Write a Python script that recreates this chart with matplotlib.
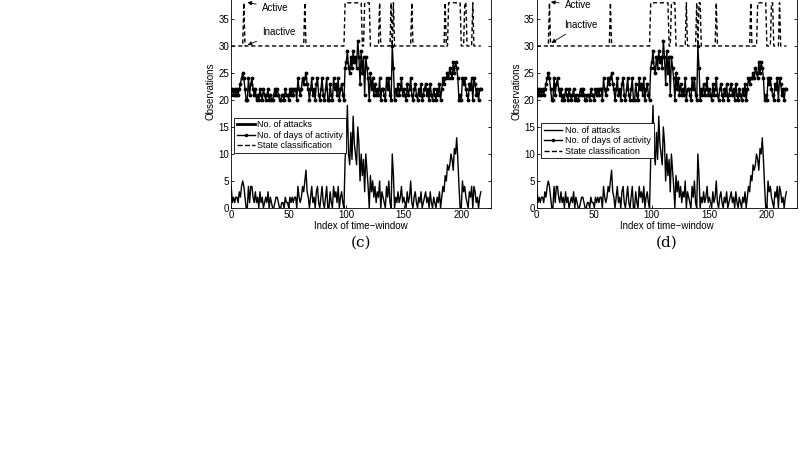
import numpy as np
import matplotlib
matplotlib.use("Agg")
import matplotlib.pyplot as plt

plt.rcParams['font.family'] = ['Liberation Sans', 'DejaVu Sans']

# number of attacks per time-window
attacks = [4, 1, 2, 1, 2, 2, 1, 3, 2, 4,
           5, 4, 2, 0, 0, 4, 1, 4, 4, 2,
           1, 3, 1, 2, 0, 3, 1, 2, 0, 1,
           2, 1, 3, 0, 2, 1, 0, 0, 1, 2,
           2, 1, 0, 0, 1, 1, 0, 2, 1, 1,
           0, 2, 1, 2, 1, 2, 2, 0, 4, 2,
           1, 2, 4, 3, 5, 7, 3, 2, 0, 2,
           4, 1, 2, 0, 3, 4, 1, 0, 2, 4,
           1, 0, 2, 4, 0, 0, 3, 1, 0, 4,
           2, 3, 1, 4, 0, 2, 3, 1, 0, 9,
           12, 19, 10, 8, 14, 9, 17, 12, 10, 8,
           15, 12, 5, 10, 6, 9, 3, 10, 7, 4,
           0, 6, 3, 5, 2, 4, 1, 3, 2, 5,
           0, 3, 2, 1, 0, 4, 2, 5, 1, 0,
           10, 6, 0, 2, 1, 3, 1, 2, 4, 1,
           2, 1, 0, 3, 1, 2, 5, 1, 0, 2,
           3, 1, 0, 2, 1, 3, 0, 1, 2, 3,
           1, 2, 0, 3, 1, 0, 2, 1, 0, 2,
           1, 3, 0, 2, 4, 3, 6, 5, 8, 7,
           8, 10, 9, 7, 11, 10, 13, 9, 4, 0,
           0, 5, 3, 4, 2, 1, 0, 3, 2, 4,
           0, 4, 3, 1, 2, 0, 2, 3]

# number of days of activity (plotted with offset, as in the figure)
days = [21, 22, 21, 22, 21, 22, 21, 22, 23, 24,
        25, 24, 22, 20, 20, 24, 21, 23, 24, 22,
        21, 22, 20, 21, 20, 22, 21, 20, 22, 21,
        20, 21, 22, 20, 21, 20, 20, 21, 22, 21,
        22, 21, 20, 20, 21, 21, 20, 22, 21, 21,
        20, 22, 21, 22, 21, 22, 22, 20, 24, 22,
        21, 22, 24, 23, 24, 25, 23, 22, 20, 22,
        24, 21, 22, 20, 23, 24, 21, 20, 22, 24,
        21, 20, 22, 24, 20, 20, 23, 21, 20, 24,
        22, 23, 21, 24, 20, 22, 23, 21, 20, 26,
        27, 29, 26, 25, 28, 26, 29, 27, 28, 26,
        31, 28, 23, 29, 25, 28, 21, 28, 26, 24,
        20, 25, 22, 24, 21, 23, 21, 22, 21, 24,
        20, 22, 22, 21, 20, 24, 22, 24, 21, 20,
        30, 26, 20, 22, 21, 23, 21, 22, 24, 21,
        22, 21, 20, 23, 21, 22, 24, 21, 20, 22,
        23, 21, 20, 22, 21, 23, 20, 21, 22, 23,
        21, 22, 20, 23, 21, 20, 22, 21, 20, 22,
        21, 23, 20, 22, 24, 23, 24, 24, 25, 24,
        26, 25, 24, 27, 25, 27, 26, 24, 20, 21,
        20, 24, 23, 24, 22, 21, 20, 23, 22, 24,
        20, 24, 23, 21, 22, 20, 22, 22]

# active windows for the two classifications
active_c = [11, 64] + list(range(99, 114)) + list(range(116, 121)) + \
           [129, 139, 141, 157, 186] + list(range(189, 200)) + [203, 204, 210]
active_d = [11, 64] + list(range(99, 115)) + list(range(117, 121)) + \
           [130, 139, 141, 142, 156, 186] + list(range(192, 200)) + [204, 205, 211]

n = len(attacks)
idx = np.arange(n)


def state_line(active):
    s = np.zeros(n)
    s[active] = 1
    return 30 + 8 * s


fig = plt.figure(figsize=(8, 4.5), dpi=100)

panels = [
    (0.289, active_c, 2.0, '(c)', (26.5, 37.0), (11.7, 38.2), (26.5, 32.5), (12.0, 30.0), (0.01, 0.418)),
    (0.671, active_d, 1.0, '(d)', (24.3, 37.6), (9.8, 38.2), (23.5, 33.9), (10.7, 30.3), (0.018, 0.392)),
]

for left, active, leg_lw, tag, act_txt, act_pt, ina_txt, ina_pt, leg_pos in panels:
    ax = fig.add_axes([left, 0.5378, 0.325, 0.48])
    ax.plot(idx, attacks, color='k', lw=1.0)
    ax.plot(idx, days, color='k', lw=1.0, marker='.', ms=3.5)
    ax.plot(idx, state_line(active), color='k', lw=1.0, ls='--', dashes=(3, 2))
    ax.set_xlim(0, 226)
    ax.set_ylim(0, 40)
    ax.set_xticks([0, 50, 100, 150, 200])
    ax.set_yticks([0, 5, 10, 15, 20, 25, 30, 35])
    ax.tick_params(direction='in', length=2.5, width=0.6, labelsize=7, top=True, right=True, pad=1.5)
    for sp in ax.spines.values():
        sp.set_linewidth(0.6)
    ax.set_xlabel('Index of time\u2212window', fontsize=7, labelpad=1)
    ax.set_ylabel('Observations', fontsize=7, labelpad=2)
    ax.yaxis.set_label_coords(-0.06, 0.54)

    ax.annotate('Active', xy=act_pt, xytext=act_txt, fontsize=7, va='center',
                arrowprops=dict(arrowstyle='-|>', color='k', lw=0.6, mutation_scale=6))
    ax.annotate('Inactive', xy=ina_pt, xytext=ina_txt, fontsize=7, va='center',
                arrowprops=dict(arrowstyle='-|>', color='k', lw=0.6, mutation_scale=6))

    h1, = ax.plot([], [], color='k', lw=leg_lw, label='No. of attacks')
    h2, = ax.plot([], [], color='k', lw=1.0, marker='.', ms=3, label='No. of days of activity')
    h3, = ax.plot([], [], color='k', lw=1.0, ls='--', label='State classification')
    leg = ax.legend(handles=[h1, h2, h3], loc='upper left', bbox_to_anchor=leg_pos,
                    fontsize=6.5, frameon=True, fancybox=False, edgecolor='k',
                    framealpha=1, borderpad=0.3, labelspacing=0.15, handlelength=2.0,
                    handletextpad=0.3, borderaxespad=0)
    leg.get_frame().set_linewidth(0.6)

    fig.text(left + 0.325 / 2, 1 - 243 / 450, tag, ha='center', va='center',
             fontsize=11, family='DejaVu Serif')

fig.savefig('out.png', dpi=100)
